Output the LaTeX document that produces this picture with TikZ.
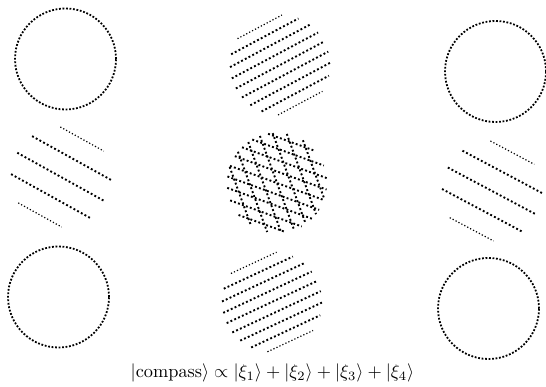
\documentclass[tikz,border=0pt]{standalone}
\usepackage{amsmath}
\begin{document}
\begin{tikzpicture}[x=1pt,y=1pt,
  ring/.style={line width=1.8pt, dash pattern=on 1.8pt off 1.7pt},
  thickdots/.style={line width=1.9pt, dash pattern=on 1.9pt off 2.3pt},
  thindots/.style={line width=1.2pt, dash pattern=on 1.2pt off 2.1pt},
]
\useasboundingbox (0,0) rectangle (546,387);
% corner circles
\draw[ring] (65.5,328) circle (50.5);
\draw[ring] (495.5,315.5) circle (50.5);
\draw[ring] (58.5,90) circle (50.5);
\draw[ring] (488.5,78.5) circle (50.5);
% top centre
\begin{scope}[shift={(280,322)}, rotate=28]
  \foreach \k/\st in {-4/thindots,-3/thickdots,-2/thickdots,-1/thickdots,0/thickdots,1/thickdots,2/thickdots,3/thickdots,4/thindots} {
    \pgfmathsetmacro\d{\k*10.8}
    \pgfmathsetmacro\h{sqrt(max(2500-\d*\d,1))}
    \draw[style=\st] (-\h,\d) -- (\h,\d);
  }
\end{scope}
% bottom centre
\begin{scope}[shift={(272,85)}, rotate=25]
  \foreach \k/\st in {-4/thindots,-3/thickdots,-2/thickdots,-1/thickdots,0/thickdots,1/thickdots,2/thickdots,3/thickdots,4/thindots} {
    \pgfmathsetmacro\d{\k*10.8}
    \pgfmathsetmacro\h{sqrt(max(2500-\d*\d,1))}
    \draw[style=\st] (-\h,\d) -- (\h,\d);
  }
\end{scope}
% left middle
\begin{scope}[shift={(61,210)}, rotate=-29]
  \foreach \k/\st in {-2/thindots,-1/thickdots,0/thickdots,1/thickdots,2/thindots} {
    \pgfmathsetmacro\d{\k*21.7}
    \pgfmathsetmacro\h{sqrt(max(2500-\d*\d,1))}
    \draw[style=\st] (-\h,\d) -- (\h,\d);
  }
\end{scope}
% right middle
\begin{scope}[shift={(492,196)}, rotate=-28]
  \foreach \k/\st in {-2/thindots,-1/thickdots,0/thickdots,1/thickdots,2/thindots} {
    \pgfmathsetmacro\d{\k*21.7}
    \pgfmathsetmacro\h{sqrt(max(2500-\d*\d,1))}
    \draw[style=\st] (-\h,\d) -- (\h,\d);
  }
\end{scope}
% centre cross-hatch
\begin{scope}[shift={(277,204)}, rotate=-20]
  \foreach \k in {-4,...,4} {
    \pgfmathsetmacro\d{\k*10.8}
    \pgfmathsetmacro\h{sqrt(max(2500-\d*\d,1))}
    \draw[thickdots] (-\h,\d) -- (\h,\d);
  }
\end{scope}
\begin{scope}[shift={(277,204)}, rotate=-70]
  \foreach \k in {-3,...,3} {
    \pgfmathsetmacro\d{\k*13}
    \pgfmathsetmacro\h{sqrt(max(2500-\d*\d,1))}
    \draw[thickdots] (-\h,\d) -- (\h,\d);
  }
\end{scope}
\node[anchor=base, scale=1.83, inner sep=0pt] (eq) at (272.5,9)
  {$|\mathrm{compass}\rangle \propto |\xi_1\rangle + |\xi_2\rangle + |\xi_3\rangle + |\xi_4\rangle$};
\end{tikzpicture}
\end{document}
